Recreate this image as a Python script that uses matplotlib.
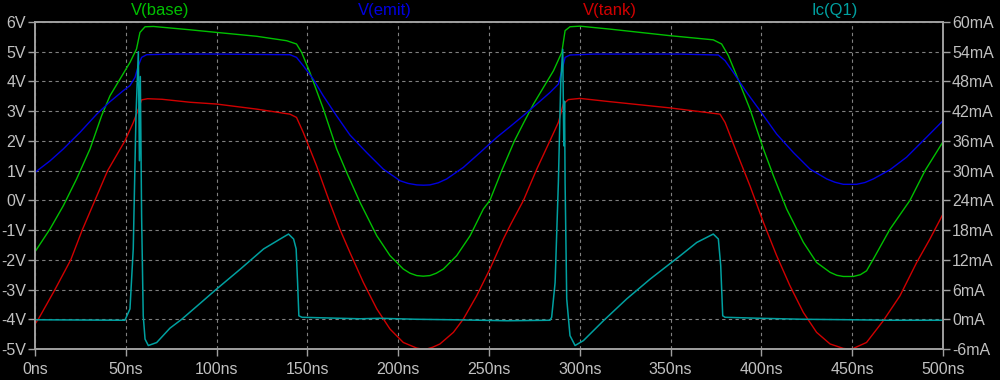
import matplotlib
matplotlib.use("Agg")
import matplotlib.pyplot as plt
import numpy as np

# V(base)
t_base = [0, 8.3, 15.6, 22.9, 30.3, 36.7, 41.3, 46.8, 52.3, 55.9, 57.8, 60.6, 65.2, 85, 100, 122,
          138.6, 144, 146.8, 151.4, 158.8, 166.1, 171.6, 179, 188.2, 195.5, 202.8, 206.5, 210.2, 213.8,
          217.5, 221, 224.9, 232.2, 239.6, 246.9, 250.5, 257, 264, 269, 274.5, 280, 285.5, 290.1,
          291.9, 294.6, 300.1, 316.7, 349.7, 373.5, 378.1, 381.8, 386.4, 393.7, 401.1, 406.6, 413.9,
          423.1, 430.4, 437.8, 441.5, 445.1, 450.6, 454.5, 457.9, 461.6, 470.8, 481.8, 490.1, 500]
v_base = [-1.73, -0.96, -0.18, 0.72, 1.73, 2.85, 3.52, 4.08, 4.64, 5.09, 5.65, 5.84, 5.85, 5.74, 5.65, 5.52,
          5.37, 5.26, 4.98, 4.30, 3.07, 1.73, 0.94, -0.07, -1.19, -1.86, -2.31, -2.45, -2.53, -2.55,
          -2.53, -2.45, -2.31, -1.86, -1.19, -0.29, 0.0, 1.0, 2.0, 2.6, 3.24, 3.80, 4.36, 4.98,
          5.71, 5.84, 5.86, 5.76, 5.54, 5.40, 5.26, 4.87, 4.19, 3.07, 1.73, 0.83, -0.29,
          -1.41, -2.09, -2.42, -2.52, -2.56, -2.56, -2.5, -2.37, -1.98, -0.97, 0.0, 1.0, 1.97]

# V(emit)
t_emit = [0, 8.3, 15.6, 24.8, 34, 41.3, 48.6, 52.3, 55.1, 56.9, 58.7, 61.5, 74.3, 100, 140.4, 144,
          147.7, 153.2, 158.7, 166, 173.4, 182.6, 191.8, 201, 205.5, 210.2, 214, 217.5, 222, 226.7,
          235.9, 245.1, 254.3, 261.6, 268.9, 276.3, 283.6, 288.2, 290.1, 291.9, 294.6, 307.5, 355,
          376.3, 380, 384.6, 391.9, 399.2, 408.4, 417.6, 426.8, 436, 440.5, 445.1, 452.4, 457, 461.6,
          470.8, 479.9, 489.1, 500]
v_emit = [0.94, 1.33, 1.73, 2.29, 2.90, 3.32, 3.69, 3.86, 4.14, 4.53, 4.81, 4.90, 4.92, 4.92, 4.90, 4.81,
          4.53, 4.08, 3.52, 2.85, 2.2, 1.61, 1.05, 0.66, 0.57, 0.52, 0.51, 0.52, 0.59, 0.72,
          1.11, 1.61, 2.12, 2.48, 2.85, 3.24, 3.63, 3.91, 4.36, 4.81, 4.89, 4.92, 4.92,
          4.89, 4.70, 4.30, 3.63, 3.02, 2.23, 1.61, 1.05, 0.72, 0.61, 0.54, 0.54, 0.6, 0.72,
          1.03, 1.45, 2.01, 2.68]

# V(tank)
t_tank = [0, 1.8, 11, 19.7, 26, 33, 40, 49.5, 54, 56.5, 58.7, 62, 70, 85.4, 100, 122, 140.4, 144,
          147.7, 155, 162.3, 167.8, 173.4, 180.8, 188.2, 195.5, 202.8, 210.2, 213, 215.7, 219, 223,
          230.4, 235.9, 243.2, 250.5, 257.9, 262, 268.9, 276.3, 283.6, 288.2, 290.9, 293.7, 300.1,
          316.6, 349.7, 377.2, 380, 386.4, 393.7, 401.1, 408.4, 415.7, 423.1, 430.4, 437.8, 445.1,
          448, 450.6, 457.9, 467.1, 476.3, 485.5, 492.8, 500]
v_tank = [-4.16, -4.0, -3.0, -2.0, -1.0, 0.0, 1.0, 2.0, 2.6, 3.0, 3.38, 3.42, 3.40, 3.30, 3.24, 3.07, 2.90, 2.79,
          2.29, 1.17, -0.07, -0.96, -1.75, -2.76, -3.65, -4.33, -4.78, -4.97, -5.0, -5.0, -4.94, -4.83,
          -4.44, -3.99, -3.21, -2.31, -1.30, -0.8, -0.01, 1.05, 2.01, 2.62, 3.24, 3.39, 3.43,
          3.32, 3.11, 2.90, 2.62, 1.61, 0.49, -0.74, -1.86, -2.87, -3.77, -4.44, -4.83, -4.98,
          -5.0, -4.98, -4.78, -4.05, -3.21, -2.09, -1.30, -0.46]

# Ic(Q1) in mA
t_ic = [0, 49.5, 52.3, 54.1, 55.6, 56.9, 57.5, 58.0, 58.7, 59.6, 60.6, 62.4, 67, 74.3, 80.8, 90.9, 100,
        113, 125.9, 135, 139.6, 142.4, 143.8, 144.6, 145.3, 147, 168, 179, 190, 210, 230, 260,
        283.6, 284.5, 286.4, 288.2, 289.5, 290.6, 291.2, 291.6, 291.9, 292.8, 294.6, 297.4, 302,
        313, 325.8, 338.7, 355.2, 364.4, 373.5, 376.3, 377.6, 378.7, 380, 399.2, 423.1, 450, 470, 500]
ic_ma = [-0.1, -0.2, 2.1, 14.2, 41, 54, 32, 49, 20.9, 0.7, -4, -5.3, -4.7, -1.8, 0.0, 3.2, 6.1,
         10.1, 14.2, 16.2, 17.2, 16.2, 14.2, 7.4, 0.7, 0.4, 0.2, 0.1, 0.2, 0.0, -0.1, -0.3,
         -0.2, 0.4, 7.4, 27.6, 47.8, 54.5, 35, 44, 27.6, 4.1, -3.3, -5.3, -4.3,
         -0.3, 4.1, 8.1, 12.8, 15.5, 17.2, 16.2, 10.8, 0.7, 0.4, 0.2, 0.0, -0.1, -0.2, -0.2]

x_ticks = list(range(0, 501, 50))
v_ticks = list(range(-5, 7))
ma_ticks = list(range(-6, 61, 6))

c_base = '#00c000'
c_emit = '#0000e0'
c_tank = '#d00000'
c_ic = '#00a0a0'
c_frame = '#a0a0a0'
c_text = '#c0c0c0'

plt.rcParams['font.family'] = ['Liberation Sans', 'DejaVu Sans']

fig = plt.figure(figsize=(10, 3.8), dpi=100, facecolor='black')
ax = fig.add_axes([0.035, 1 - 349 / 380, 0.908, 327 / 380])
ax.set_facecolor('black')

ax.plot(t_base, v_base, c=c_base, lw=1)
ax.plot(t_emit, v_emit, c=c_emit, lw=1)
ax.plot(t_tank, v_tank, c=c_tank, lw=1)

ax.set_xlim(0, 500)
ax.set_ylim(-5, 6)
ax.set_xticks(x_ticks)
ax.set_xticklabels(["{}ns".format(x) for x in x_ticks])
ax.set_yticks(v_ticks)
ax.set_yticklabels(["{}V".format(v) for v in v_ticks])

# grid
ax.set_axisbelow(True)
ax.grid(color='#808080', linestyle=(0, (3, 3)), lw=0.8)

ax2 = ax.twinx()
ax2.plot(t_ic, ic_ma, c=c_ic, lw=1.1)
ax2.set_ylim(-6, 60)
ax2.set_yticks(ma_ticks)
ax2.set_yticklabels(["{}mA".format(m) for m in ma_ticks])

for a in (ax, ax2):
    for s in a.spines.values():
        s.set_color(c_frame)
        s.set_linewidth(1.2)
    a.tick_params(colors=c_frame, labelcolor=c_text, labelsize=11.5, length=5, width=1, pad=1.5)

ax.tick_params(axis='x', pad=4)

fig.text(160 / 1000, 1 - 11 / 380, 'V(base)', color=c_base, fontsize=12, ha='center', va='center')
fig.text(385 / 1000, 1 - 11 / 380, 'V(emit)', color=c_emit, fontsize=12, ha='center', va='center')
fig.text(610 / 1000, 1 - 11 / 380, 'V(tank)', color=c_tank, fontsize=12, ha='center', va='center')
fig.text(835 / 1000, 1 - 11 / 380, 'Ic(Q1)', color=c_ic, fontsize=12, ha='center', va='center')

fig.savefig('out.png', dpi=100, facecolor='black')
